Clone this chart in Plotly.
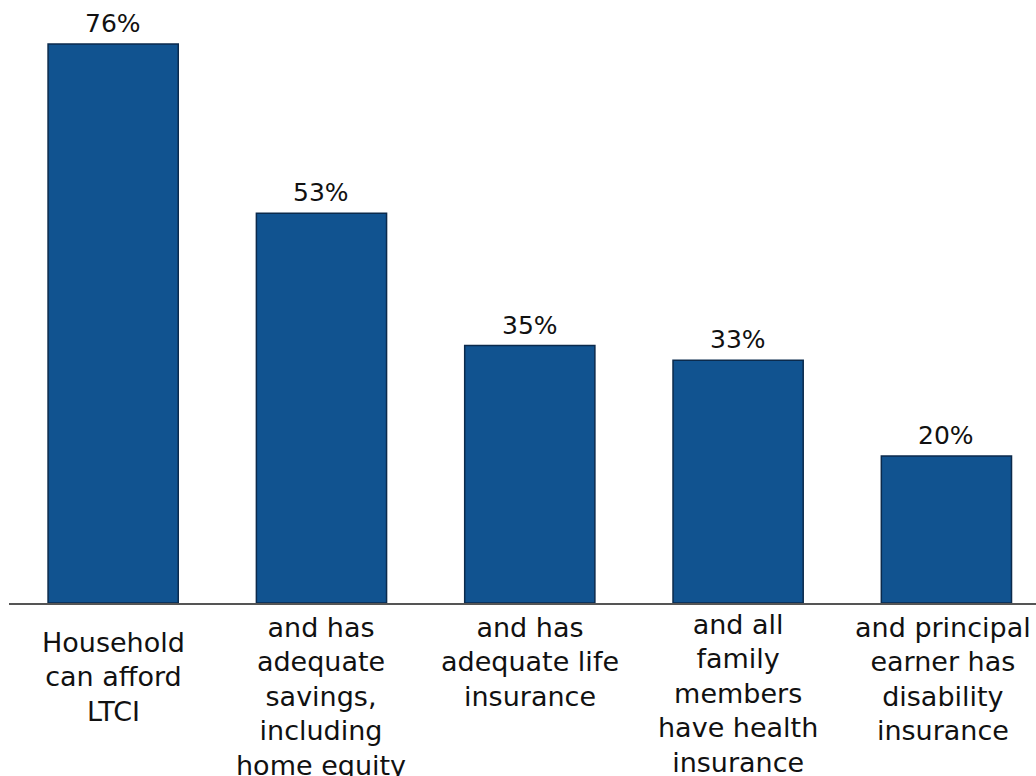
import plotly.graph_objects as go

categories = [
    ["Household", "can afford", "LTCI"],
    ["and has", "adequate", "savings,", "including", "home equity"],
    ["and has", "adequate life", "insurance"],
    ["and all", "family", "members", "have health", "insurance"],
    ["and principal", "earner has", "disability", "insurance"],
]
values = [76, 53, 35, 33, 20]
value_labels = ["76%", "53%", "35%", "33%", "20%"]

# per-label offsets (px) of the category labels
label_shift = [-22, -7, -7, -4, -7]
label_xshift = [0, 0, 0, 0, -3]

xpos = list(range(len(categories)))

fig = go.Figure(
    go.Bar(
        x=xpos,
        y=values,
        marker=dict(color="#115390", line=dict(color="#0b2a4c", width=1.5)),
        width=0.625,
        hoverinfo="skip",
    )
)

for i, (v, lab) in enumerate(zip(values, value_labels)):
    fig.add_annotation(
        x=xpos[i], y=v, xref="x", yref="y",
        text=lab, showarrow=False,
        xanchor="center", yanchor="bottom", yshift=4,
        font=dict(family="DejaVu Sans", size=25, color="#111111"),
    )

for i, lines in enumerate(categories):
    txt = "<br>".join("<span style='font-size:27px'>" + ln + "</span>" for ln in lines)
    fig.add_annotation(
        x=xpos[i], y=0, xref="x", yref="y",
        text=txt, showarrow=False,
        xanchor="center", yanchor="top",
        yshift=label_shift[i], xshift=label_xshift[i],
        align="center",
        font=dict(family="DejaVu Sans", size=26.5, color="#111111"),
    )

fig.update_layout(
    width=1036,
    height=776,
    margin=dict(l=9, r=0, t=15, b=173),
    plot_bgcolor="white",
    paper_bgcolor="white",
    showlegend=False,
    font=dict(family="DejaVu Sans", size=24, color="#111111"),
)
fig.update_xaxes(
    range=[-0.5, 4.43],
    showline=True,
    linecolor="#555555",
    linewidth=1.5,
    ticks="",
    showticklabels=False,
    showgrid=False,
    zeroline=False,
)
fig.update_yaxes(
    range=[0, 79.95],
    visible=False,
    showgrid=False,
    zeroline=False,
)

fig.write_html(
    "out.html",
    config={"displayModeBar": False, "staticPlot": True},
    post_script="document.body.style.margin='0';document.body.style.overflow='hidden';",
)
